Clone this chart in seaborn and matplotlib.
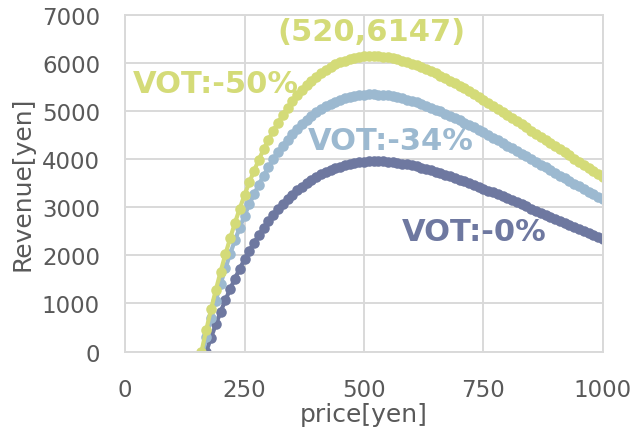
import numpy as np
import pandas as pd
import matplotlib
matplotlib.use("Agg")
import matplotlib.pyplot as plt
import seaborn as sns

# Price grid (yen) shared by the three revenue series
price = list(range(160, 1001, 10))

# Revenue [yen] for each value-of-time scenario
rev_vot_0 = [
    -290, 0, 291, 566, 825, 1070, 1301, 1518, 1723, 1915,
    2096, 2265, 2423, 2571, 2709, 2837, 2957, 3068, 3170, 3264,
    3351, 3431, 3504, 3570, 3630, 3684, 3733, 3776, 3814, 3847,
    3875, 3899, 3918, 3933, 3946, 3953, 3959, 3960, 3956, 3949,
    3939, 3925, 3909, 3892, 3871, 3849, 3825, 3799, 3772, 3742,
    3711, 3680, 3647, 3613, 3578, 3542, 3504, 3466, 3427, 3389,
    3349, 3308, 3268, 3227, 3185, 3143, 3101, 3060, 3017, 2974,
    2932, 2889, 2848, 2805, 2762, 2720, 2679, 2636, 2595, 2554,
    2512, 2470, 2430, 2390, 2350,
]
rev_vot_34 = [
    -130, 293, 689, 1060, 1406, 1728, 2031, 2313, 2577, 2826,
    3060, 3273, 3473, 3660, 3833, 3995, 4144, 4283, 4410, 4527,
    4635, 4734, 4823, 4904, 4977, 5043, 5101, 5152, 5197, 5235,
    5267, 5293, 5314, 5331, 5341, 5348, 5350, 5346, 5338, 5326,
    5309, 5289, 5267, 5241, 5212, 5181, 5148, 5112, 5074, 5034,
    4993, 4949, 4904, 4858, 4811, 4761, 4711, 4660, 4608, 4556,
    4502, 4448, 4393, 4338, 4283, 4226, 4170, 4114, 4057, 4001,
    3943, 3888, 3830, 3774, 3717, 3661, 3605, 3549, 3493, 3438,
    3382, 3328, 3273, 3219, 3165,
]
rev_vot_50 = [
    0, 451, 878, 1281, 1661, 2020, 2357, 2675, 2973, 3253,
    3516, 3761, 3991, 4205, 4404, 4590, 4762, 4921, 5067, 5202,
    5326, 5439, 5542, 5635, 5719, 5794, 5861, 5920, 5971, 6015,
    6052, 6082, 6106, 6125, 6137, 6145, 6147, 6143, 6133, 6120,
    6100, 6077, 6052, 6022, 5989, 5953, 5915, 5874, 5830, 5784,
    5737, 5686, 5635, 5582, 5528, 5471, 5413, 5354, 5295, 5235,
    5173, 5111, 5048, 4984, 4921, 4856, 4792, 4727, 4662, 4597,
    4531, 4467, 4401, 4336, 4271, 4207, 4142, 4078, 4014, 3950,
    3886, 3824, 3761, 3699, 3637,
]

series_names = ["VOT:-0%", "VOT:-34%", "VOT:-50%"]
series_colors = ["#6E78A0", "#9CB9D0", "#D4DB78"]
x_ticks = [0, 250, 500, 750, 1000]
y_ticks = [0, 1000, 2000, 3000, 4000, 5000, 6000, 7000]
peak_label = "(520,6147)"

df = pd.concat(
    [
        pd.DataFrame({"price": price, "revenue": vals, "scenario": name})
        for name, vals in zip(series_names, [rev_vot_0, rev_vot_34, rev_vot_50])
    ],
    ignore_index=True,
)

sns.set_theme(style="whitegrid")
plt.rcParams["font.family"] = ["DejaVu Sans"]

fig = plt.figure(figsize=(6.34, 4.31), dpi=100)
ax = fig.add_axes([0.1972, 0.1821, 0.7538, 0.7808])

sns.lineplot(
    data=df, x="price", y="revenue", hue="scenario",
    hue_order=series_names, palette=series_colors,
    marker="o", markersize=7.6, markeredgewidth=0,
    linewidth=3.0, legend=False, ax=ax, sort=False,
)

grid_c = "#D9D9D9"
ax.set_xlim(0, 1000)
ax.set_ylim(0, 7000)
ax.set_xticks(x_ticks)
ax.set_yticks(y_ticks)
ax.grid(True, color=grid_c, linewidth=1.4)
for s in ax.spines.values():
    s.set_color(grid_c)
    s.set_linewidth(1.4)
ax.tick_params(axis="both", length=0, labelsize=16.5, colors="#595959")
ax.tick_params(axis="x", pad=19)
ax.tick_params(axis="y", pad=18)

ax.set_xlabel("price[yen]", fontsize=18, color="#595959", va="center")
ax.set_ylabel("Revenue[yen]", fontsize=18, color="#595959", va="center")
ax.xaxis.set_label_coords(0.5, -0.186)
ax.yaxis.set_label_coords(-0.2144, 0.5)

txt = dict(ha="center", va="baseline", fontsize=22, fontweight="bold", clip_on=False)
ax.text(515, 6487, peak_label, color=series_colors[2], **txt)
ax.text(190, 5408, series_names[2], color=series_colors[2], **txt)
ax.text(556, 4204, series_names[1], color=series_colors[1], **txt)
ax.text(730, 2321, series_names[0], color=series_colors[0], **txt)

fig.savefig("out.png", dpi=100)
